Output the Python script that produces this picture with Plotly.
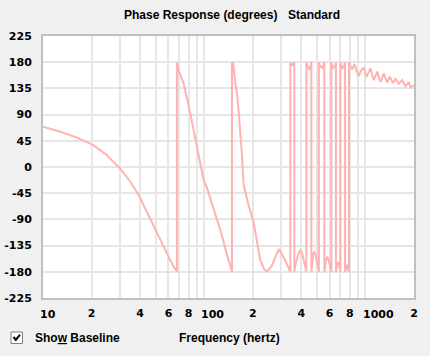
import math
import plotly.graph_objects as go

# ---- data (frequency in Hz, phase in degrees) ----
freq_hz = [
    10, 12.7, 16.1, 20.4, 24.7, 29.9, 34.6, 39.9, 42, 45.5, 49.6, 55.9, 61.5, 65, 67.7,
    67.7, 69.2, 74.4, 81.8, 90.1, 99, 104, 109, 118, 128, 138, 148.6,
    148.6, 151.4, 155.8, 159.6, 163.3, 167.4, 171.4, 175.4, 188, 202.4, 222.7, 235, 245, 262, 289.4, 315, 342,
    342, 350, 358, 362,
    362, 370, 385, 394.6, 405, 418, 430,
    430, 438, 448, 456, 462,
    462, 470, 479, 490, 503, 514,
    514, 525, 540, 556,
    556, 565, 578, 592, 605, 615,
    615, 628, 645, 656,
    656, 668, 683, 692, 699,
    699, 712, 730, 746,
    746, 760, 770, 780, 790,
    790, 810, 830, 854.6, 880, 908.5, 940, 976, 995, 1014, 1045, 1074, 1100, 1126, 1155, 1182, 1210,
    1240, 1270, 1299, 1330, 1364, 1390, 1416, 1450, 1486, 1510, 1536, 1570, 1610, 1650,
    1690, 1730, 1772, 1815, 1858, 1880, 1903, 1950, 2000,
]
phase_deg = [
    69, 61, 51, 38, 21, -2, -24, -52, -65, -85, -108, -137, -160, -172, -180,
    180, 167, 144, 93, 35, -22, -36, -54, -85, -115, -150, -180,
    180, 178, 144, 126, 98, 63, 20, -30, -65, -95, -160, -175, -180, -170, -141, -158, -180,
    180, 175, 177, 180,
    -180, -165, -148, -143, -148, -165, -180,
    180, 172, 168, 172, 180,
    -180, -160, -145, -150, -168, -180,
    180, 172, 170, 180,
    -180, -165, -154, -160, -172, -180,
    180, 170, 172, 180,
    -180, -168, -163, -170, -180,
    180, 168, 172, 180,
    -180, -172, -168, -175, -180,
    180, 172, 168, 177, 165, 156, 166, 171, 162, 155, 162, 169.5, 158, 149, 157, 164, 154,
    146, 153, 161, 152, 145, 150, 155, 149, 144, 148, 152, 147, 142.6, 146,
    149, 144, 139, 142, 146, 141, 137, 139, 140,
]

y_ticks = [225, 180, 135, 90, 45, 0, -45, -90, -135, -180, -225]
x_tick_vals = [10, 20, 30, 40, 50, 60, 70, 80, 90,
               100, 200, 300, 400, 500, 600, 700, 800, 900,
               1000, 2000]
x_tick_text = ["10", "2", "", "4", "", "6", "", "8", "",
               "100", "2", "", "4", "", "6", "", "8", "",
               "1000", "2"]

# ---- layout constants (pixels) ----
W, H = 430, 356
L, R, T, B = 43, 16, 36, 58
PW, PH = W - L - R, H - T - B


def px(x):
    return (x - L) / PW


def py(y):
    return (H - B - y) / PH


# single-digit labels sit centred on their grid line (axis ticks); the
# multi-digit decade labels start with their first digit on the grid line
axis_text = [t if len(t) <= 1 else "" for t in x_tick_text]
DIGIT_W = 7.7

fig = go.Figure()
fig.add_trace(go.Scatter(
    x=freq_hz, y=phase_deg, mode="lines",
    line=dict(color="#FFB2B2", width=2),
    hoverinfo="skip", showlegend=False,
))

tick_font = dict(family="DejaVu Sans", size=11, color="#000000", weight="bold")
label_font = dict(family="Liberation Sans, Arial, sans-serif", size=12, color="#000000", weight="bold")

fig.update_xaxes(
    type="log", range=[1, 3.30103],
    tickmode="array", tickvals=x_tick_vals, ticktext=axis_text,
    tickangle=0, automargin=False,
    showgrid=True, gridcolor="#E6E6E6", gridwidth=2,
    showline=True, mirror=True, linecolor="#C0C0C0", linewidth=2,
    ticks="", tickfont=tick_font, zeroline=False, ticklabelstandoff=4,
)
fig.update_yaxes(
    range=[-225, 225], automargin=False,
    tickmode="array", tickvals=y_ticks, ticktext=[str(v) for v in y_ticks],
    showgrid=True, gridcolor="#E6E6E6", gridwidth=2,
    showline=True, mirror=True, linecolor="#C0C0C0", linewidth=2,
    ticks="", tickfont=tick_font, zeroline=False, ticklabelstandoff=7,
)

annotations = [
    dict(text="Phase Response (degrees)", x=px(122), y=py(15), xanchor="left", yanchor="middle", font=label_font),
    dict(text="Standard", x=px(286), y=py(15), xanchor="left", yanchor="middle", font=label_font),
    dict(text="Sho<u>w</u> Baseline", x=px(33), y=py(338), xanchor="left", yanchor="middle", font=label_font),
    dict(text="Frequency (hertz)", x=px(229), y=py(338), xanchor="center", yanchor="middle", font=label_font),
]
for v, t in zip(x_tick_vals, x_tick_text):
    if len(t) > 1:
        annotations.append(dict(
            text=t, xref="x", x=math.log10(v), xshift=-DIGIT_W / 2 - 1,
            y=py(314), xanchor="left", yanchor="middle", font=tick_font,
        ))
for a in annotations:
    a.setdefault("xref", "paper")
    a.update(yref="paper", showarrow=False)

shapes = [
    dict(type="rect", xref="paper", yref="paper",
         x0=px(11), x1=px(22.5), y0=py(343.5), y1=py(332),
         fillcolor="#FFFFFF", line=dict(color="#808080", width=1)),
    dict(type="path", xref="paper", yref="paper",
         path=f"M {px(13.5)} {py(337)} L {px(15.8)} {py(339.8)} L {px(20)} {py(334.6)}",
         line=dict(color="#000000", width=2)),
]

fig.update_layout(
    width=W, height=H,
    margin=dict(l=L, r=R, t=T, b=B, pad=0, autoexpand=False),
    paper_bgcolor="#F0F0F0", plot_bgcolor="#FFFFFF",
    annotations=annotations, shapes=shapes,
    showlegend=False,
)

fig.write_html(
    "out.html",
    config={"displayModeBar": False, "staticPlot": True},
    post_script="document.body.style.margin='0px';document.body.style.background='#F0F0F0';",
)
